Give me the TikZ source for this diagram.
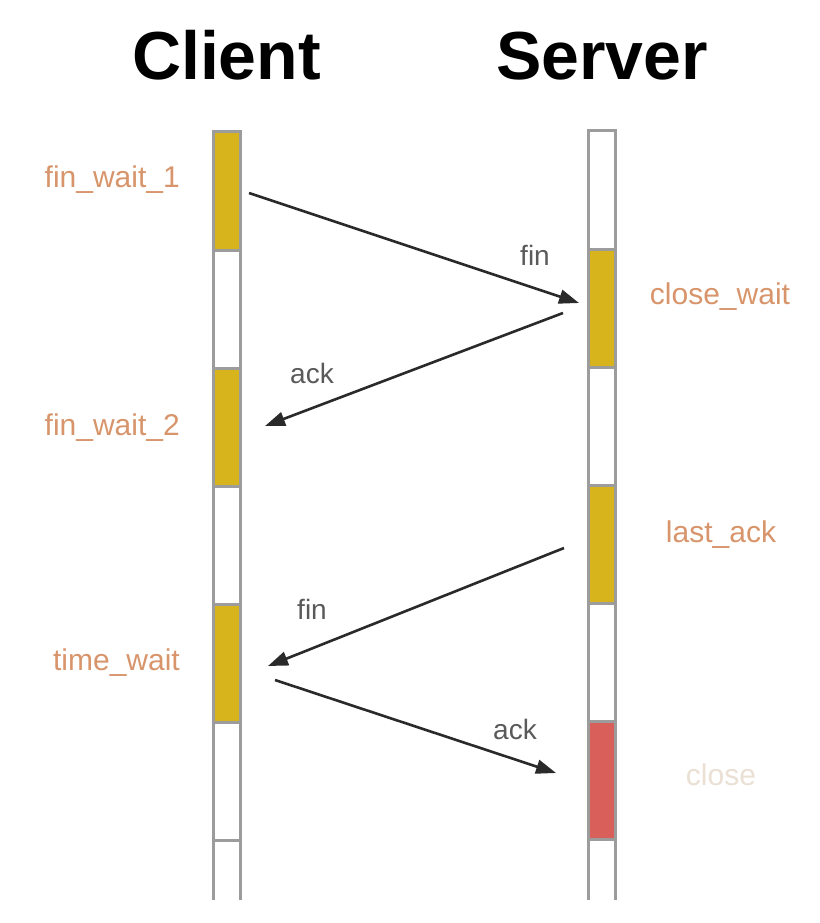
\documentclass[tikz,border=0pt]{standalone}
\usepackage{fontspec}
\setmainfont{Liberation Sans}
\usetikzlibrary{arrows.meta}
\definecolor{barline}{HTML}{9C9C9C}
\definecolor{goldfill}{HTML}{D8B41C}
\definecolor{redfill}{HTML}{D9605A}
\definecolor{statec}{HTML}{D8956B}
\definecolor{closec}{HTML}{EAE0D4}
\definecolor{msgc}{HTML}{5A5A5A}
\definecolor{arrowc}{HTML}{2A2A2A}
\tikzset{
  seg/.style={draw=barline, line width=3pt, minimum width=27pt, minimum height=118pt, inner sep=0pt, outer sep=0pt},
  busy/.style={seg, fill=goldfill},
  idle/.style={seg, fill=white},
  dead/.style={seg, fill=redfill},
  sideline/.style={draw=barline, line width=3pt},
  title/.style={font=\fontsize{68}{74}\selectfont\bfseries, anchor=base, inner sep=0pt},
  state/.style={font=\fontsize{30}{34}\selectfont, text=statec, inner sep=0pt},
  msg/.style={font=\fontsize{28}{32}\selectfont, text=msgc, inner sep=0pt},
  msgarrow/.style={draw=arrowc, line width=2.6pt, -{Triangle[length=20pt,width=14pt]}}
}
\begin{document}
\begin{tikzpicture}[x=1pt,y=-1pt]
\path[fill=white] (0,0) rectangle (819,923);
\useasboundingbox (0,0) rectangle (819,923);
% titles
\node[title] (tclient) at (226.5,80) {Client};
\node[title] (tserver) at (602,80) {Server};
% client bar
\node[busy] (c1) at (226.5,191) {};
\node[idle] (c2) at (226.5,309) {};
\node[busy] (c3) at (226.5,427) {};
\node[idle] (c4) at (226.5,545) {};
\node[busy] (c5) at (226.5,663) {};
\node[idle] (c6) at (226.5,781) {};
\coordinate (c7tl) at (213,840);
\coordinate (c7bl) at (213,900);
\coordinate (c7tr) at (240,840);
\coordinate (c7br) at (240,900);
\draw[sideline] (c7tl) -- (c7bl) (c7tr) -- (c7br) (c7tl) -- (c7tr);
% server bar
\node[idle] (s1) at (602,190) {};
\node[busy] (s2) at (602,308) {};
\node[idle] (s3) at (602,426) {};
\node[busy] (s4) at (602,544) {};
\node[idle] (s5) at (602,662) {};
\node[dead] (s6) at (602,780) {};
\coordinate (s7tl) at (588.5,839);
\coordinate (s7bl) at (588.5,900);
\coordinate (s7tr) at (615.5,839);
\coordinate (s7br) at (615.5,900);
\draw[sideline] (s7tl) -- (s7bl) (s7tr) -- (s7br) (s7tl) -- (s7tr);
% redraw borders of colored segments on top
\draw[draw=barline, line width=3pt] (c1.north west) rectangle (c1.south east);
\draw[draw=barline, line width=3pt] (s2.north west) rectangle (s2.south east);
% state labels
\node[state, anchor=east] (l1) at (180,180) {fin\_wait\_1};
\node[state, anchor=east] (l2) at (180,428) {fin\_wait\_2};
\node[state, anchor=east] (l3) at (180,663) {time\_wait};
\node[state] (r1) at (720,297) {close\_wait};
\node[state] (r2) at (721,535) {last\_ack};
\node[state, text=closec] (r3) at (721,775) {close};
% message arrows
\coordinate (m1s) at (249,193);
\coordinate (m1e) at (579,303);
\coordinate (m2s) at (563,313);
\coordinate (m2e) at (265,426);
\coordinate (m3s) at (564,548);
\coordinate (m3e) at (268,666);
\coordinate (m4s) at (275,680);
\coordinate (m4e) at (556,773);
\draw[msgarrow] (m1s) -- (m1e);
\draw[msgarrow] (m2s) -- (m2e);
\draw[msgarrow] (m3s) -- (m3e);
\draw[msgarrow] (m4s) -- (m4e);
\node[msg] (f1) at (535,255) {fin};
\node[msg] (a1) at (312,373) {ack};
\node[msg] (f2) at (312,609) {fin};
\node[msg] (a2) at (515,729) {ack};
\end{tikzpicture}
\end{document}
